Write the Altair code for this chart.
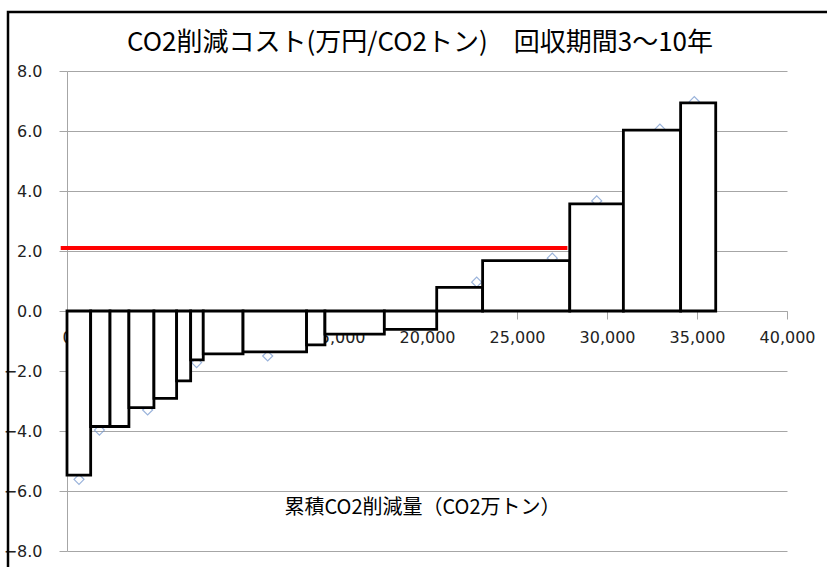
import altair as alt
import pandas as pd

# Cumulative reduction (10k t-CO2): left and right edge of each measure's block
starts = [0, 1315, 2390, 3440, 4830, 6090, 6870, 7570, 9780, 13310, 14330, 17630, 20540, 23090, 27930, 30910, 34090]
ends = [1315, 2390, 3440, 4830, 6090, 6870, 7570, 9780, 13310, 14330, 17630, 20540, 23090, 27930, 30910, 34090, 36040]
# Abatement cost (10k yen / t-CO2) of each measure
costs = [-5.47, -3.85, -3.85, -3.22, -2.91, -2.33, -1.63, -1.43, -1.36, -1.13, -0.77, -0.61, 0.79, 1.68, 3.57, 6.03, 6.94]

# Individual data points (scatter markers)
point_x = [667, 1800, 4480, 7200, 11150, 22760, 26960, 29430, 32940, 34850]
point_y = [-5.61, -3.97, -3.30, -1.72, -1.50, 0.96, 1.76, 3.67, 6.06, 6.98]

# Reference cost level
ref_x = [-350]
ref_x2 = [27800]
ref_y = [2.1]

x_ticks = [0, 5000, 10000, 15000, 20000, 25000, 30000, 35000, 40000]
y_ticks = [-8, -6, -4, -2, 0, 2, 4, 6, 8]

TITLE = "CO2削減コスト(万円/CO2トン)　回収期間3～10年"
X_TITLE = "累積CO2削減量（CO2万トン）"

GRAY = "#a6a6a6"
LABEL = "#222222"

bars_df = pd.DataFrame({"start": starts, "end": ends, "cost": costs, "base": [0] * len(costs)})
pts_df = pd.DataFrame({"x": point_x, "y": point_y})
ref_df = pd.DataFrame({"x": ref_x, "x2": ref_x2, "y": ref_y})

x_scale = alt.Scale(domain=[0, 40000], nice=False, zero=False)
y_scale = alt.Scale(domain=[-8, 8], nice=False, zero=False)

x_axis = alt.Axis(
    values=x_ticks, format=",.0f", offset=-240, tickSize=8, labelPadding=10,
    grid=False, domainColor=GRAY, tickColor=GRAY,
    labelFont="DejaVu Sans", labelFontSize=16, labelColor=LABEL,
    labelFlush=False, labelOverlap=False,
    title=X_TITLE, titleFont="Noto Sans CJK JP",
    titleFontSize=20, titleFontWeight="normal", titleColor="black",
    titleX=355, titleY=196, titleAlign="center", titleBaseline="middle",
)
y_axis = alt.Axis(
    values=y_ticks, format=".1f", tickSize=8, labelPadding=17,
    grid=True, gridColor=GRAY, domainColor=GRAY, tickColor=GRAY,
    labelFont="DejaVu Sans", labelFontSize=16, labelColor=LABEL, title=None,
)

points = alt.Chart(pts_df).mark_point(
    shape="diamond", filled=False, size=100, color="#6f93cc", strokeWidth=1.2
).encode(
    x=alt.X("x:Q", scale=x_scale, axis=x_axis),
    y=alt.Y("y:Q", scale=y_scale, axis=y_axis),
)

bars = alt.Chart(bars_df).mark_rect(
    fill="white", stroke="black", strokeWidth=2.8
).encode(
    x=alt.X("start:Q", scale=x_scale, axis=x_axis),
    x2="end:Q",
    y=alt.Y("cost:Q", scale=y_scale, axis=y_axis),
    y2="base:Q",
)

ref_line = alt.Chart(ref_df).mark_rule(color="#ff0000", strokeWidth=4).encode(
    x=alt.X("x:Q", scale=x_scale, axis=x_axis),
    x2="x2:Q",
    y=alt.Y("y:Q", scale=y_scale, axis=y_axis),
)

one = pd.DataFrame({"k": [0]})

# Chart title
title = alt.Chart(one).mark_text(
    text=TITLE, font="Noto Sans CJK JP", fontSize=26, color="black",
    align="center", baseline="middle",
).encode(x=alt.value(353), y=alt.value(-28))

# Outer border of the chart area
frame = alt.Chart(one).mark_rect(
    fillOpacity=0, stroke="black", strokeWidth=2.5
).encode(
    x=alt.value(-59), x2=alt.value(800), y=alt.value(-59), y2=alt.value(520)
)

chart = alt.layer(points, bars, ref_line, title, frame).properties(
    width=720,
    height=480,
    background="white",
    padding={"left": 67, "top": 71, "right": 40, "bottom": 16},
    autosize="none",
).configure_view(stroke=None)

chart.save("out.html", embed_options={"renderer": "svg", "actions": False})
